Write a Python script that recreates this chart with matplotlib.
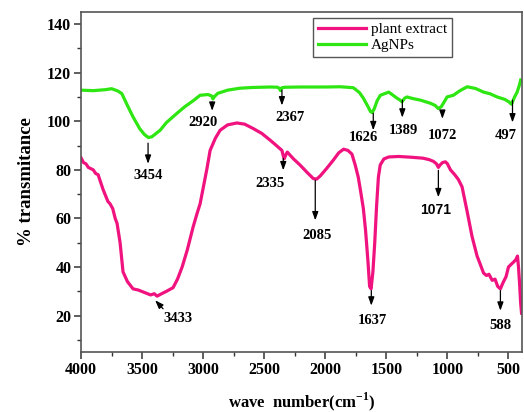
import numpy as np
import matplotlib
matplotlib.use("Agg")
import matplotlib.pyplot as plt
from matplotlib.ticker import MultipleLocator

plt.rcParams["mathtext.fontset"] = "custom"
plt.rcParams["mathtext.rm"] = "Liberation Serif:bold"
plt.rcParams["mathtext.bf"] = "Liberation Serif:bold"

# AgNPs spectrum (wavenumber, % transmittance)
wn_ag = [4000, 3900, 3800, 3750, 3700, 3666, 3620, 3574, 3520, 3480, 3448, 3420,
         3390, 3352, 3300, 3216, 3150, 3080, 3025, 2960, 2930, 2920, 2905, 2880,
         2800, 2700, 2600, 2450, 2390, 2375, 2367, 2355, 2330, 2200, 2000, 1877,
         1770, 1720, 1688, 1650, 1630, 1617, 1600, 1575, 1549, 1480, 1413, 1390,
         1372, 1350, 1331, 1280, 1221, 1139, 1100, 1074, 1050, 1020, 1003, 951,
         900, 838, 770, 704, 650, 593, 530, 497, 475, 450, 429, 410, 400]
tr_ag = [112.8, 112.6, 113.0, 113.4, 112.5, 111.4, 106.5, 101.8, 97.0, 94.5, 93.3, 93.6,
         94.8, 96.3, 99.5, 103.2, 106.0, 108.5, 110.7, 111.0, 110.4, 109.2, 110.3, 111.5,
         112.8, 113.6, 113.9, 114.1, 114.0, 113.5, 112.6, 113.8, 114.0, 114.1, 114.1, 114.2,
         113.8, 111.8, 109.5, 106.0, 104.0, 103.6, 105.0, 108.5, 110.7, 112.0, 109.5, 108.8,
         108.0, 109.5, 110.0, 109.3, 108.7, 107.4, 106.5, 105.2, 106.0, 108.5, 110.0, 110.7,
         112.5, 114.2, 113.5, 112.0, 111.3, 110.0, 109.0, 108.0, 107.0, 110.0, 112.0, 115.0, 117.0]

# plant extract spectrum
wn_pe = [4000, 3980, 3960, 3940, 3920, 3900, 3880, 3860, 3840, 3820, 3800, 3780,
         3762, 3740, 3720, 3705, 3680, 3656, 3620, 3574, 3530, 3480, 3430, 3400,
         3377, 3340, 3300, 3246, 3210, 3172, 3130, 3082, 3050, 3025, 2990, 2967,
         2943, 2900, 2861, 2800, 2724, 2660, 2590, 2520, 2451, 2400, 2355, 2345,
         2336, 2320, 2311, 2260, 2205, 2150, 2098, 2070, 2041, 1990, 1934, 1890,
         1850, 1815, 1782, 1755, 1730, 1710, 1688, 1670, 1650, 1637, 1625, 1610,
         1595, 1580, 1565, 1550, 1520, 1480, 1400, 1300, 1200, 1150, 1115, 1090,
         1074, 1060, 1040, 1016, 1000, 975, 940, 910, 880, 839, 798, 757,
         730, 704, 680, 660, 633, 610, 588, 566, 545, 520, 500, 480,
         459, 440, 426, 418, 410, 400, 393]
tr_pe = [85.0, 83.0, 82.5, 81.0, 80.5, 80.0, 78.5, 78.0, 75.0, 72.0, 69.5, 67.0,
         66.0, 64.0, 60.0, 58.0, 50.0, 38.0, 34.0, 31.0, 30.5, 29.5, 28.5, 29.0,
         28.0, 29.0, 30.0, 31.5, 35.0, 40.0, 47.0, 56.5, 62.0, 66.0, 75.0, 81.0,
         88.0, 93.0, 96.3, 98.5, 99.3, 98.8, 97.0, 95.0, 92.2, 90.0, 88.0, 86.0,
         84.6, 86.5, 87.3, 84.5, 81.9, 79.0, 76.4, 76.2, 77.5, 80.5, 84.0, 87.0,
         88.5, 88.0, 86.5, 82.0, 77.0, 71.0, 64.0, 55.0, 42.0, 32.0, 31.0, 38.0,
         50.0, 65.0, 77.0, 82.0, 84.5, 85.3, 85.5, 85.2, 84.8, 84.2, 83.5, 82.5,
         81.0, 82.0, 83.0, 83.3, 82.5, 80.0, 78.0, 76.0, 73.0, 63.0, 52.5, 44.5,
         41.0, 37.5, 36.5, 37.0, 34.5, 35.0, 32.0, 31.0, 33.5, 36.0, 40.0, 41.0,
         42.0, 43.0, 44.5, 40.0, 34.0, 25.0, 21.0]

# peak labels: text, arrow x, arrow start y, arrow end y, text x, text y
peaks = [
    ("3454", 3451, 91.0, 82.5, 3451, 77.5),
    ("2920", 2926, 108.0, 104.3, 3000, 99.5),
    ("2367", 2355, 112.8, 106.5, 2290, 101.5),
    ("1626", 1607, 103.3, 96.3, 1689, 93.3),
    ("1389", 1369, 108.7, 101.5, 1361, 96.2),
    ("1072", 1041, 103.3, 101.0, 1041, 94.2),
    ("497", 467, 108.7, 99.5, 525, 94.2),
    ("2335", 2344, 84.7, 79.8, 2451, 74.4),
    ("2085", 2082, 75.7, 59.2, 2066, 53.0),
    ("1637", 1623, 30.3, 24.1, 1615, 18.0),
    ("588", 566, 30.3, 22.0, 566, 16.0),
]

serif = "Liberation Serif"

fig = plt.figure(figsize=(5.24, 4.12), dpi=100)
ax = fig.add_axes([0.1546, 0.1456, 0.8414, 0.8254])

ax.plot(wn_pe, tr_pe, color="#f0127f", lw=2.3, label="plant extract")
ax.plot(wn_ag, tr_ag, color="#2ee612", lw=2.3, label="AgNPs")

ax.set_xlim(4000, 390)
ax.set_ylim(5, 145)
ax.xaxis.set_major_locator(MultipleLocator(500))
ax.xaxis.set_minor_locator(MultipleLocator(250))
ax.yaxis.set_major_locator(MultipleLocator(20))
ax.yaxis.set_minor_locator(MultipleLocator(10))
ax.set_yticks(range(20, 141, 20))
ax.tick_params(which="both", direction="out", top=False, right=False, color="#333333")
ax.tick_params(which="major", length=5, width=1.1, pad=2)
ax.tick_params(which="minor", length=3, width=1.0)
for lab in ax.get_xticklabels() + ax.get_yticklabels():
    lab.set_family(serif)
    lab.set_fontweight("bold")
    lab.set_fontsize(11.5)
for s in ax.spines.values():
    s.set_color("#555555")
    s.set_linewidth(1.2)

ax.set_xlabel("wave  number(cm$^{-1}$)", family=serif, fontweight="bold",
              fontsize=12, labelpad=9)
ax.set_ylabel("% transmitance", family=serif, fontweight="bold", fontsize=13.5, labelpad=9)

arw = dict(arrowstyle="-|>,head_length=0.5,head_width=0.18", color="black", lw=0.9,
           shrinkA=0, shrinkB=0)
for txt, ax_x, y0, y1, tx, ty in peaks:
    ax.annotate("", xy=(ax_x, y1), xytext=(ax_x, y0), arrowprops=arw)
    ax.text(tx, ty, txt, family=serif, fontweight="bold", fontsize=10.5,
            ha="center", va="center")

# 1071 label uses sans face in the original
ax.annotate("", xy=(1074, 68.7), xytext=(1074, 79.8), arrowprops=arw)
ax.text(1098, 63.3, "1071", family="Liberation Sans", fontweight="bold", fontsize=10,
        ha="center", va="center")
# 3433 label with slanted arrow
ax.annotate("", xy=(3393, 26.3), xytext=(3328, 22.8), arrowprops=arw)
ax.text(3205, 18.8, "3433", family=serif, fontweight="bold", fontsize=10.5,
        ha="center", va="center")

leg = ax.legend(loc="upper left", bbox_to_anchor=(0.526, 0.982), borderaxespad=0,
                prop={"family": serif, "size": 11}, handlelength=3.2, fancybox=False,
                framealpha=1, edgecolor="#555555", borderpad=0.3, labelspacing=0.15,
                handletextpad=0.3)
leg.get_frame().set_linewidth(1.0)

fig.savefig("out.png", dpi=100)
